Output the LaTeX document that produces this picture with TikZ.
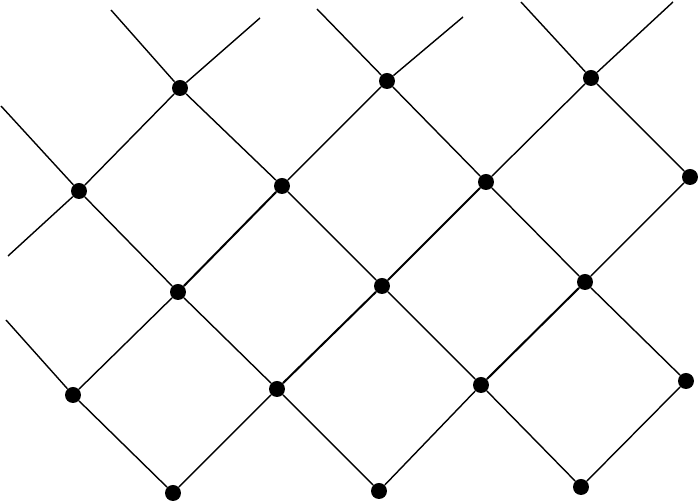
\documentclass[tikz,border=0pt]{standalone}
\usepackage{tikz}

\tikzset{
  vertex/.style={circle, fill=black, inner sep=0pt, minimum size=0.32cm},
  link/.style={line width=0.8pt},
  heavy/.style={line width=1.15pt}
}

\begin{document}
\begin{tikzpicture}[x=0.02cm, y=-0.02cm]

  \useasboundingbox (0,0) rectangle (698,502);

  % lattice points, row by row
  \node[vertex] (a1) at (180,88) {};
  \node[vertex] (a2) at (387,81) {};
  \node[vertex] (a3) at (591,78) {};

  \node[vertex] (b1) at (79,191) {};
  \node[vertex] (b2) at (282,186) {};
  \node[vertex] (b3) at (486,182) {};
  \node[vertex] (b4) at (690,177) {};

  \node[vertex] (c1) at (178,292) {};
  \node[vertex] (c2) at (382,286) {};
  \node[vertex] (c3) at (585,282) {};

  \node[vertex] (d1) at (73,395) {};
  \node[vertex] (d2) at (277,389) {};
  \node[vertex] (d3) at (481,385) {};
  \node[vertex] (d4) at (686,381) {};

  \node[vertex] (e1) at (173,493) {};
  \node[vertex] (e2) at (379,491) {};
  \node[vertex] (e3) at (581,487) {};

  % loose ends
  \coordinate (f1) at (111,10);
  \coordinate (f2) at (260,18);
  \coordinate (f3) at (1,106);
  \coordinate (f4) at (8,256);
  \coordinate (f5) at (317,9);
  \coordinate (f6) at (463,17);
  \coordinate (f7) at (521,2);
  \coordinate (f8) at (673,2);
  \coordinate (f9) at (6,320);

  \draw[link] (f1) -- (a1);
  \draw[link] (f2) -- (a1);
  \draw[link] (f3) -- (b1);
  \draw[link] (f4) -- (b1);
  \draw[link] (f5) -- (a2);
  \draw[link] (f6) -- (a2);
  \draw[link] (f7) -- (a3);
  \draw[link] (f8) -- (a3);
  \draw[link] (f9) -- (d1);

  % down-right
  \draw[link] (d1) -- (e1);
  \draw[link] (b1) -- (c1);
  \draw[link] (c1) -- (d2);
  \draw[link] (d2) -- (e2);
  \draw[link] (a1) -- (b2);
  \draw[link] (b2) -- (c2);
  \draw[link] (c2) -- (d3);
  \draw[link] (d3) -- (e3);
  \draw[link] (a2) -- (b3);
  \draw[link] (b3) -- (c3);
  \draw[link] (c3) -- (d4);
  \draw[link] (a3) -- (b4);

  % up-right
  \draw[link] (d1) -- (c1);
  \draw[heavy] (c1) -- (b2);
  \draw[link] (b2) -- (a2);
  \draw[link] (b1) -- (a1);
  \draw[link] (e1) -- (d2);
  \draw[heavy] (d2) -- (c2);
  \draw[heavy] (c2) -- (b3);
  \draw[link] (b3) -- (a3);
  \draw[link] (e2) -- (d3);
  \draw[heavy] (d3) -- (c3);
  \draw[link] (c3) -- (b4);
  \draw[link] (e3) -- (d4);

\end{tikzpicture}
\end{document}
